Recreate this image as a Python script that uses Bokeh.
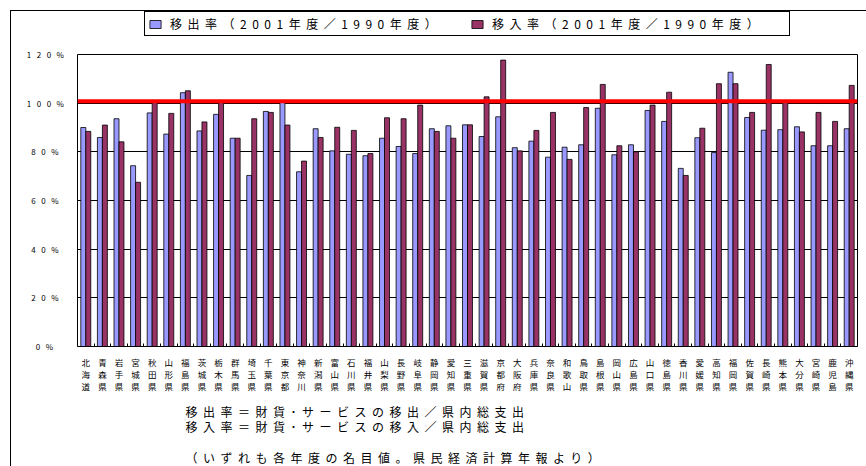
from bokeh.plotting import figure
from bokeh.layouts import column
from bokeh.models import (ColumnDataSource, FixedTicker, PrintfTickFormatter,
                          Span, Label, Legend, LegendItem, Range1d)
from bokeh.transform import dodge
from bokeh.embed import file_html
from bokeh.resources import INLINE

# 都道府県（表示名）
prefectures = [
    "北海道", "青森県", "岩手県", "宮城県", "秋田県", "山形県", "福島県",
    "茨城県", "栃木県", "群馬県", "埼玉県", "千葉県", "東京都", "神奈川",
    "新潟県", "富山県", "石川県", "福井県", "山梨県", "長野県", "岐阜県",
    "静岡県", "愛知県", "三重県", "滋賀県", "京都府", "大阪府", "兵庫県",
    "奈良県", "和歌山", "鳥取県", "島根県", "岡山県", "広島県", "山口県",
    "徳島県", "香川県", "愛媛県", "高知県", "福岡県", "佐賀県", "長崎県",
    "熊本県", "大分県", "宮崎県", "鹿児島", "沖縄県",
]

# 移出率（2001年度/1990年度, %）
outflow_ratio = [
    90.0, 85.9, 93.6, 74.3, 96.0, 87.3, 104.3, 88.6, 95.4, 85.6,
    70.3, 96.6, 100.5, 71.8, 89.5, 80.4, 79.0, 78.4, 85.6, 82.2,
    79.3, 89.5, 90.7, 91.1, 86.3, 94.4, 81.7, 84.4, 77.8, 81.9,
    82.9, 97.9, 78.8, 82.9, 97.0, 92.5, 73.2, 85.8, 79.7, 112.7,
    94.1, 88.9, 89.1, 90.3, 82.5, 82.5, 89.5,
]

# 移入率（2001年度/1990年度, %）
inflow_ratio = [
    88.4, 91.0, 84.1, 67.5, 100.5, 95.8, 105.1, 92.3, 100.3, 85.6,
    93.6, 96.2, 91.0, 76.2, 85.9, 90.1, 88.8, 79.3, 94.0, 93.6,
    99.2, 88.4, 85.6, 91.1, 102.6, 117.7, 80.4, 88.8, 96.2, 76.9,
    98.2, 107.7, 82.5, 80.0, 99.2, 104.5, 70.3, 89.7, 108.0, 108.0,
    96.2, 115.9, 100.3, 88.2, 96.2, 92.5, 107.3,
]

series_labels = ["移出率（2001年度／1990年度）", "移入率（2001年度／1990年度）"]
y_ticks = [0, 20, 40, 60, 80, 100, 120]
parity_level = 100.8

notes = [
    "移出率＝財貨･サービスの移出／県内総支出",
    "移入率＝財貨･サービスの移入／県内総支出",
    "（いずれも各年度の名目値。県民経済計算年報より）",
]

FONT = "Noto Sans CJK JP"
OUT_COLOR = "#9999FF"
IN_COLOR = "#993366"
W = 855

n = len(prefectures)
idx = list(range(n))
source = ColumnDataSource(dict(idx=idx, outflow=outflow_ratio, inflow=inflow_ratio))


def strip(height):
    """A blank full-width strip used for the legend row and the notes block."""
    f = figure(width=W, height=height, x_range=Range1d(0, 1), y_range=Range1d(0, 1),
               x_axis_type=None, y_axis_type=None, output_backend="svg",
               toolbar_location=None, min_border=0)
    f.outline_line_color = None
    f.background_fill_color = "white"
    f.border_fill_color = "white"
    return f


# ---- main bar chart ----
p = figure(
    width=W, height=348,
    x_range=Range1d(-0.5, n - 0.5), y_range=Range1d(0, 120),
    output_backend="svg", toolbar_location=None,
    min_border_left=66, min_border_right=9, min_border_top=6, min_border_bottom=50,
)
p.background_fill_color = "white"
p.border_fill_color = "white"
p.outline_line_color = "black"
p.outline_line_width = 1
p.outline_line_alpha = 1

bar_w = 0.3
bar_style = dict(width=bar_w, line_color="black", line_width=0.8)
p.vbar(x=dodge("idx", -bar_w / 2), top="outflow", source=source,
       fill_color=OUT_COLOR, **bar_style)
p.vbar(x=dodge("idx", bar_w / 2), top="inflow", source=source,
       fill_color=IN_COLOR, **bar_style)

p.add_layout(Span(location=parity_level, dimension="width",
                  line_color="#FF0000", line_width=4))

p.xgrid.visible = False
p.ygrid.grid_line_color = "black"
p.ygrid.grid_line_width = 1
p.ygrid.grid_line_alpha = 1

yax = p.yaxis[0]
yax.ticker = FixedTicker(ticks=y_ticks)
yax.formatter = PrintfTickFormatter(format="%d%%")
yax.axis_line_color = None
yax.major_tick_in = 0
yax.major_tick_out = 0
yax.minor_tick_line_color = None
yax.major_label_standoff = 30
yax.major_label_text_font = FONT
yax.major_label_text_font_size = "8px"
yax.major_label_text_color = "black"

# vertical prefecture names, small inner ticks between groups
xax = p.xaxis[0]
xax.ticker = FixedTicker(ticks=idx, minor_ticks=[i + 0.5 for i in range(n - 1)])
xax.major_label_overrides = {i: "\n".join(name) for i, name in enumerate(prefectures)}
xax.axis_line_color = "black"
xax.major_tick_in = 0
xax.major_tick_out = 0
xax.minor_tick_in = 3
xax.minor_tick_out = 0
xax.minor_tick_line_color = "black"
xax.major_label_standoff = 9
xax.major_label_text_font = FONT
xax.major_label_text_font_size = "8.5px"
xax.major_label_text_line_height = 1.0
xax.major_label_text_color = "black"

# ---- legend row (key swatches only; their bars carry no drawable value) ----
top = strip(37)
key_src = ColumnDataSource(dict(x=[float("nan")], top=[float("nan")]))
k_out = top.vbar(x="x", top="top", source=key_src, fill_color=OUT_COLOR, **bar_style)
k_in = top.vbar(x="x", top="top", source=key_src, fill_color=IN_COLOR, **bar_style)
legend = Legend(
    items=[LegendItem(label=series_labels[0], renderers=[k_out], index=0),
           LegendItem(label=series_labels[1], renderers=[k_in], index=0)],
    location=(67, 12), orientation="horizontal",
    border_line_color="black", border_line_width=1, border_line_alpha=1,
    background_fill_color="white", background_fill_alpha=1,
    padding=3, spacing=6, margin=0,
    glyph_width=14, glyph_height=10, label_standoff=8,
    label_width=294, label_height=12,
    label_text_font=FONT, label_text_font_size="12px", label_text_color="black",
)
top.add_layout(legend)

# ---- notes ----
bottom = strip(70)
for text, y in zip(notes, [55, 40, 9]):
    bottom.add_layout(Label(x=108, y=y, x_units="screen", y_units="screen", text=text,
                            text_font=FONT, text_font_size="12px", text_color="black",
                            text_baseline="middle"))

layout = column(
    top, p, bottom, spacing=0,
    styles={
        "margin-left": "10px", "margin-top": "10px",
        "border-left": "1px solid #000", "border-top": "1px solid #000",
        "letter-spacing": "5.5px",
    },
)

open("out.html", "w").write(file_html(layout, INLINE))
